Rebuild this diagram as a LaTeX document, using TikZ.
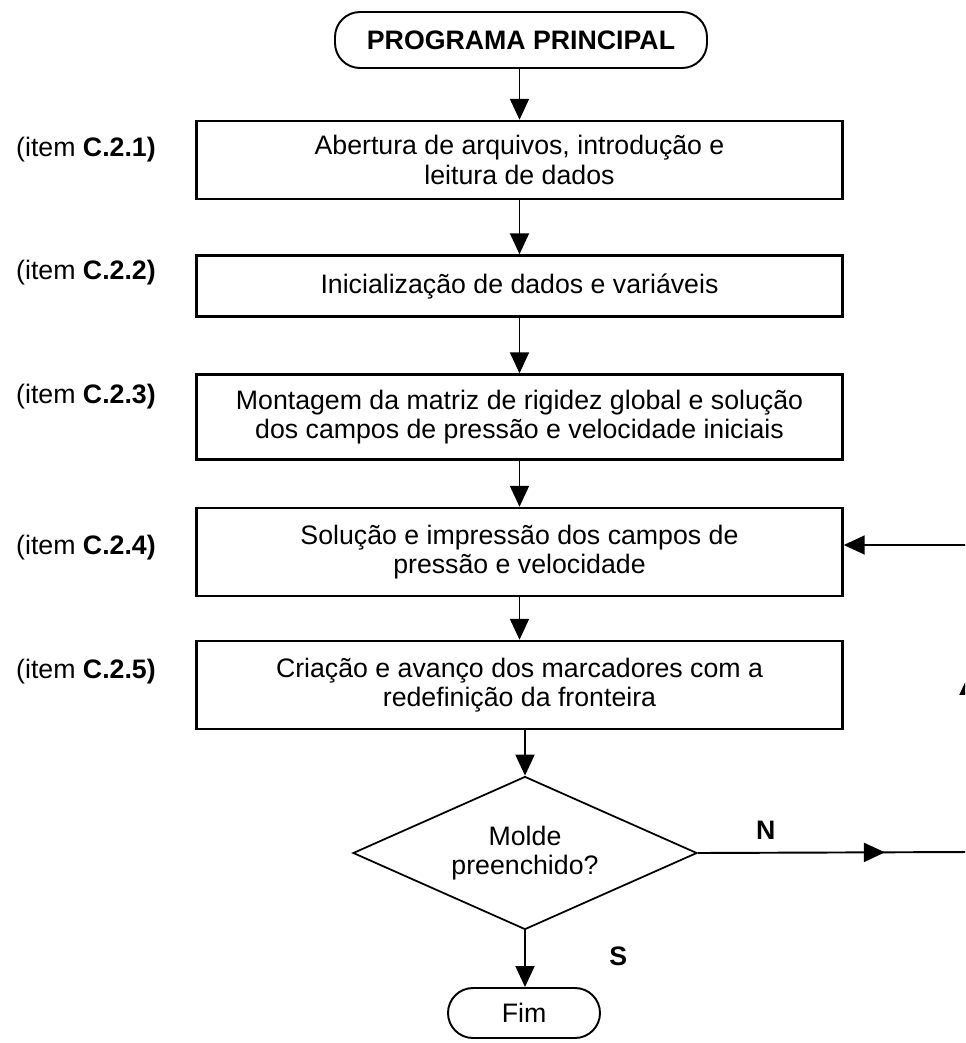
\documentclass[tikz,border=0pt]{standalone}
\usepackage{fontspec}
\setmainfont{Liberation Sans}
\usetikzlibrary{positioning}
\usetikzlibrary{arrows.meta}
\usetikzlibrary{shapes.geometric}
\usetikzlibrary{decorations.markings}
\tikzset{fluxo/.style={font=\fontsize{15.2}{16.8}\selectfont},
caixa/.style={draw, line width=1.4pt, minimum width=12.92cm, align=center, inner sep=0pt},
terminal/.style={draw, line width=1.1pt, rounded corners=0.5cm, align=center, inner sep=0pt},
decisao/.style={draw, diamond, shape aspect=2.25, line width=1pt, align=center, inner sep=0pt,
minimum width=6.88cm, minimum height=3.06cm},
rotulo/.style={anchor=west},
seta/.style={-{Triangle[length=0.42cm, width=0.38cm]}, line width=1.1pt},
meio/.style={postaction={decorate}, decoration={markings,
mark=at position #1 with {\arrow{Triangle[length=0.42cm, width=0.38cm]}}}}}

\begin{document}
\begin{tikzpicture}[fluxo]
	\useasboundingbox (0,0) rectangle (19.3,-20.86);
	\clip (0,0) rectangle (19.3,-20.86);
	% blocos do programa
	\node[terminal, minimum width=7.44cm, minimum height=1.12cm] (inicio) at (10.42,-0.80) {\textbf{PROGRAMA PRINCIPAL}};
	\node[caixa, minimum height=1.56cm] (abertura) at (10.39,-3.20) {Abertura de arquivos, introdução e\\leitura de dados};
	\node[caixa, minimum height=1.22cm] (inicial) at (10.39,-5.72) {Inicialização de dados e variáveis};
	\node[caixa, minimum height=1.70cm] (montagem) at (10.39,-8.34) {Montagem da matriz de rigidez global e solução\\dos campos de pressão e velocidade iniciais};
	\node[caixa, minimum height=1.76cm] (solucao) at (10.39,-11.04) {Solução e impressão dos campos de\\pressão e velocidade};
	\node[caixa, minimum height=1.76cm] (marcador) at (10.39,-13.70) {Criação e avanço dos marcadores com a\\redefinição da fronteira};
	\node[decisao] (molde) at (10.50,-17.06) {Molde\\preenchido?};
	\node[terminal, minimum width=3.04cm, minimum height=1.0cm] (fim) at (10.48,-20.26) {Fim};
	% referencias aos itens
	\node[rotulo] (c1) at (0.20,-3.00) {(item \textbf{C.2.1)}};
	\node[rotulo] (c2) at (0.20,-5.46) {(item \textbf{C.2.2)}};
	\node[rotulo] (c3) at (0.20,-7.94) {(item \textbf{C.2.3)}};
	\node[rotulo] (c4) at (0.20,-10.96) {(item \textbf{C.2.4)}};
	\node[rotulo] (c5) at (0.20,-13.44) {(item \textbf{C.2.5)}};
	% ligacoes
	\draw[seta] (inicio.south -| abertura.north) -- (abertura.north);
	\draw[seta] (abertura) -- (inicial);
	\draw[seta] (inicial) -- (montagem);
	\draw[seta] (montagem) -- (solucao);
	\draw[seta] (solucao) -- (marcador);
	\draw[seta] (marcador.south -| molde.north) -- (molde.north);
	\draw[seta] (molde.south) -- node[right=1.55cm, pos=0.45] (sim) {\textbf{S}} (fim.north -| molde.south);
	% retorno quando o molde nao esta cheio
	\coordinate (volta1) at (19.38,-17.04);
	\coordinate (volta2) at (19.38,-10.90);
	\draw[line width=1.1pt, meio=0.69] (molde.east) -- node[above=0.12cm, pos=0.25] (nao) {\textbf{N}} (volta1);
	\draw[line width=1.1pt, meio=0.58] (volta1) -- (volta2);
	\draw[seta] (volta2) -- (volta2 -| solucao.east);
\end{tikzpicture}
\end{document}
